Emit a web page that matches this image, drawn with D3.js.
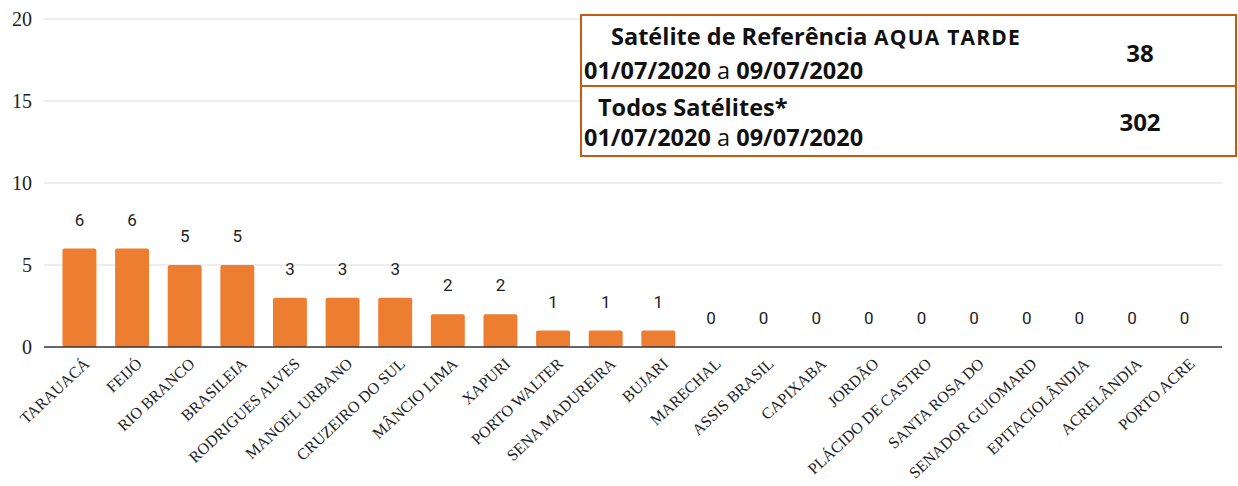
<!DOCTYPE html>
<html>
<head>
<meta charset="utf-8">
<script src="https://cdn.jsdelivr.net/npm/d3@7"></script>
<style>
body { margin: 0; background: #fff; }
svg { display: block; }
</style>
</head>
<body>
<div id="chart"></div>
<script>
// municipios e focos
var municipios = ["TARAUACÁ", "FEIJÓ", "RIO BRANCO", "BRASILEIA", "RODRIGUES ALVES",
  "MANOEL URBANO", "CRUZEIRO DO SUL", "MÂNCIO LIMA", "XAPURI", "PORTO WALTER",
  "SENA MADUREIRA", "BUJARI", "MARECHAL", "ASSIS BRASIL", "CAPIXABA", "JORDÃO",
  "PLÁCIDO DE CASTRO", "SANTA ROSA DO", "SENADOR GUIOMARD", "EPITACIOLÂNDIA",
  "ACRELÂNDIA", "PORTO ACRE"];
var focos = [6, 6, 5, 5, 3, 3, 3, 2, 2, 1, 1, 1, 0, 0, 0, 0, 0, 0, 0, 0, 0, 0];
var yTicks = [0, 5, 10, 15, 20];

// tabela do canto
var tabelaTitulos = ["Satélite de Referência", "Todos Satélites*"];
var tabelaSufixo = ["AQUA TARDE", ""];
var tabelaPeriodo = ["01/07/2020", "09/07/2020"];
var tabelaTotais = [38, 302];

var width = 1238, height = 486;

var svg = d3.select("#chart")
  .append("svg")
  .attr("width", width)
  .attr("height", height);

var x = d3.scaleBand()
  .domain(municipios)
  .range([53, 1211])
  .paddingInner(0.355)
  .paddingOuter(0.18);

var y = d3.scaleLinear()
  .domain([0, 20])
  .range([347, 19]);

// grid
svg.append("g")
  .selectAll("line")
  .data(yTicks.filter(function(d){ return d > 0; }))
  .enter()
  .append("line")
  .attr("x1", 44)
  .attr("x2", 1222)
  .attr("y1", function(d){ return y(d); })
  .attr("y2", function(d){ return y(d); })
  .attr("stroke", "#e8e8ec")
  .attr("stroke-width", 1.5);

// y labels
svg.append("g")
  .selectAll("text")
  .data(yTicks)
  .enter()
  .append("text")
  .attr("x", 32)
  .attr("y", function(d){ return y(d) + 7; })
  .attr("text-anchor", "end")
  .style("font-family", "'Liberation Serif', serif")
  .style("font-size", "20px")
  .style("fill", "#222")
  .text(function(d){ return d; });

// bars
svg.append("g")
  .selectAll("rect")
  .data(focos)
  .enter()
  .append("rect")
  .attr("x", function(d, i){ return x(municipios[i]); })
  .attr("y", function(d){ return y(d); })
  .attr("width", x.bandwidth())
  .attr("height", function(d){ return y(0) - y(d); })
  .attr("rx", 2)
  .attr("fill", "#ED7D31");

// baseline
svg.append("line")
  .attr("x1", 44)
  .attr("x2", 1222)
  .attr("y1", y(0))
  .attr("y2", y(0))
  .attr("stroke", "#333")
  .attr("stroke-width", 1.5);

// value labels
svg.append("g")
  .selectAll("text")
  .data(focos)
  .enter()
  .append("text")
  .attr("x", function(d, i){ return x(municipios[i]) + x.bandwidth() / 2; })
  .attr("y", function(d){ return y(d) - 23; })
  .attr("text-anchor", "middle")
  .style("font-family", "Roboto, sans-serif")
  .style("font-size", "17px")
  .style("fill", "#222")
  .text(function(d){ return d; });

// x labels, rotated
svg.append("g")
  .selectAll("text")
  .data(municipios)
  .enter()
  .append("text")
  .attr("transform", function(d){
    var cx = x(d) + x.bandwidth() / 2 + 11;
    return "translate(" + cx + ",365) rotate(-43)";
  })
  .attr("text-anchor", "end")
  .style("font-family", "'Liberation Serif', serif")
  .style("font-size", "16px")
  .style("fill", "#222")
  .text(function(d){ return d; });

// tabela
var tab = svg.append("g");
var tx = 581, tw = 655, rowY = [15, 86], rowH = [71, 70];
var tituloY = [45, 116], periodoY = [79, 146], totalY = [62, 131];

tab.selectAll("rect")
  .data(tabelaTitulos)
  .enter()
  .append("rect")
  .attr("x", tx)
  .attr("y", function(d, i){ return rowY[i]; })
  .attr("width", tw)
  .attr("height", function(d, i){ return rowH[i]; })
  .attr("fill", "#fff")
  .attr("stroke", "#C55A11")
  .attr("stroke-width", 2);

var titulo = tab.selectAll("text.titulo")
  .data(tabelaTitulos)
  .enter()
  .append("text")
  .attr("class", "titulo")
  .attr("x", function(d, i){ return i == 0 ? 611 : 598; })
  .attr("y", function(d, i){ return tituloY[i]; })
  .style("font-family", "'Open Sans', sans-serif")
  .style("font-weight", "bold")
  .style("font-size", "23.5px")
  .style("fill", "#111");
titulo.append("tspan").text(function(d){ return d; });
titulo.append("tspan")
  .style("font-size", "21px")
  .style("letter-spacing", "1.2px")
  .text(function(d, i){ return tabelaSufixo[i] ? " " + tabelaSufixo[i] : ""; });

var periodo = tab.selectAll("text.periodo")
  .data(tabelaTitulos)
  .enter()
  .append("text")
  .attr("class", "periodo")
  .attr("x", 584)
  .attr("y", function(d, i){ return periodoY[i]; })
  .style("font-family", "'Open Sans', sans-serif")
  .style("font-size", "23.5px")
  .style("fill", "#111");
periodo.append("tspan").style("font-weight", "bold").text(tabelaPeriodo[0]);
periodo.append("tspan").text(" a ");
periodo.append("tspan").style("font-weight", "bold").text(tabelaPeriodo[1]);

tab.selectAll("text.total")
  .data(tabelaTotais)
  .enter()
  .append("text")
  .attr("class", "total")
  .attr("x", 1140)
  .attr("y", function(d, i){ return totalY[i]; })
  .attr("text-anchor", "middle")
  .style("font-family", "'Open Sans', sans-serif")
  .style("font-weight", "bold")
  .style("font-size", "24px")
  .style("fill", "#111")
  .text(function(d){ return d; });
</script>
</body>
</html>
